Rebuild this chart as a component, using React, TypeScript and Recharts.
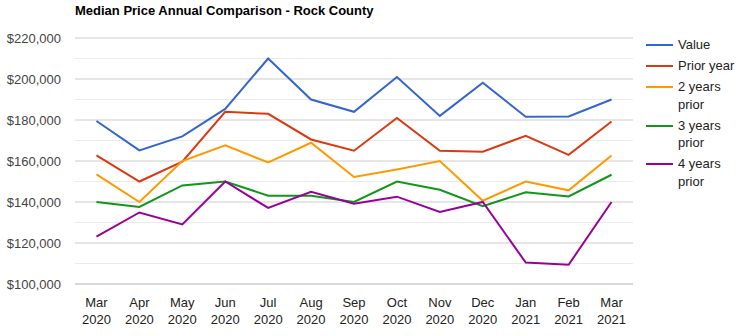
import { LineChart, Line, XAxis, YAxis, CartesianGrid, ReferenceLine } from "recharts";

const months = ["Mar 2020", "Apr 2020", "May 2020", "Jun 2020", "Jul 2020", "Aug 2020", "Sep 2020", "Oct 2020", "Nov 2020", "Dec 2020", "Jan 2021", "Feb 2021", "Mar 2021"];
const value = [179500, 165200, 172000, 185400, 210000, 190000, 184000, 201000, 182000, 198200, 181600, 181700, 190000];
const priorYear = [162700, 150000, 159700, 184000, 183000, 170500, 165000, 181000, 165000, 164500, 172300, 163000, 179300];
const twoYearsPrior = [153500, 140000, 160000, 167600, 159300, 168900, 152200, 155900, 160000, 140600, 150000, 145700, 162700];
const threeYearsPrior = [140000, 137600, 148100, 150000, 143100, 143000, 140000, 150000, 146000, 138000, 144700, 142700, 153300];
const fourYearsPrior = [123100, 134900, 129100, 150000, 137100, 145000, 139200, 142600, 135100, 140000, 110500, 109400, 140000];

const yTicks = [100000, 120000, 140000, 160000, 180000, 200000, 220000];
const minorTicks = [110000, 130000, 150000, 170000, 190000, 210000];

const series = [
  { key: "value", label: ["Value"], color: "#3366cc" },
  { key: "prior1", label: ["Prior year"], color: "#dc3912" },
  { key: "prior2", label: ["2 years", "prior"], color: "#ff9900" },
  { key: "prior3", label: ["3 years", "prior"], color: "#109618" },
  { key: "prior4", label: ["4 years", "prior"], color: "#990099" },
];

const data = months.map((m, i) => ({
  month: m,
  value: value[i],
  prior1: priorYear[i],
  prior2: twoYearsPrior[i],
  prior3: threeYearsPrior[i],
  prior4: fourYearsPrior[i],
}));

const font = "Arial, 'Liberation Sans', sans-serif";

const MonthTick = ({ x, y, payload }: any) => {
  const [m, yr] = String(payload.value).split(" ");
  return (
    <text x={x} y={y} textAnchor="middle" fill="#222" fontSize={13} fontFamily={font}>
      <tspan x={x} dy={15}>{m}</tspan>
      <tspan x={x} dy={17}>{yr}</tspan>
    </text>
  );
};

const fmt = (v: number) => "$" + v.toLocaleString("en-US");

const App = () => {
  return (
    <div style={{ position: "absolute", left: 0, top: 0, width: 741, height: 336, background: "#fff", fontFamily: font }}>
      <div style={{ position: "absolute", left: 75, top: 3, fontSize: 13, fontWeight: "bold", color: "#000" }}>
        Median Price Annual Comparison - Rock County
      </div>
      <LineChart width={741} height={336} data={data} margin={{ top: 38, right: 108, bottom: 0, left: 0 }}>
        <CartesianGrid vertical={false} stroke="#cccccc" />
        {minorTicks.map((t) => (
          <ReferenceLine key={t} y={t} stroke="#ebebeb" ifOverflow="extendDomain" />
        ))}
        <XAxis
          dataKey="month"
          scale="band"
          interval={0}
          axisLine={{ stroke: "#cccccc" }}
          tickLine={false}
          height={52}
          tick={<MonthTick />}
        />
        <YAxis
          width={75}
          domain={[100000, 220000]}
          ticks={yTicks}
          tickFormatter={fmt}
          axisLine={false}
          tickLine={false}
          tick={{ fill: "#444", fontSize: 13, fontFamily: font }}
          tickMargin={8}
        />
        {series.map((s) => (
          <Line
            key={s.key}
            type="linear"
            dataKey={s.key}
            stroke={s.color}
            strokeWidth={2}
            dot={false}
            isAnimationActive={false}
          />
        ))}
      </LineChart>
      <div style={{ position: "absolute", left: 646, top: 36, fontSize: 13, color: "#222", lineHeight: "17.5px" }}>
        {series.map((s) => (
          <div key={s.key} style={{ display: "flex", alignItems: "flex-start", marginBottom: 3.5 }}>
            <div style={{ width: 27, height: 2, background: s.color, marginTop: 8, marginRight: 5 }} />
            <div>
              {s.label.map((l) => (
                <div key={l}>{l}</div>
              ))}
            </div>
          </div>
        ))}
      </div>
    </div>
  );
};

export default App;
